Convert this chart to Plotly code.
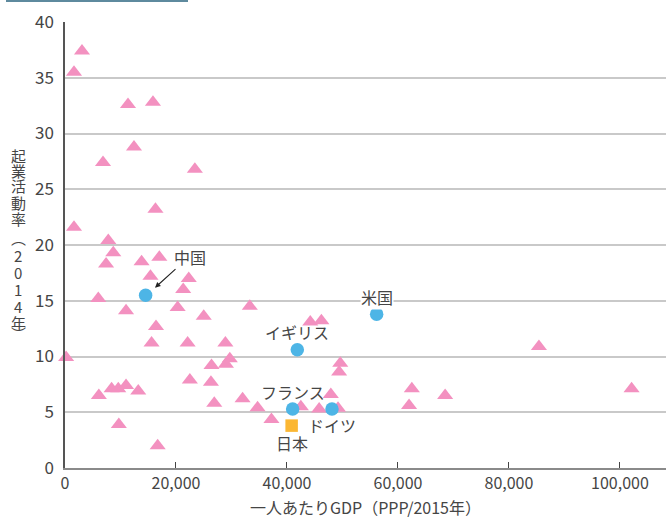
import plotly.graph_objects as go

# Other countries (pink triangles): GDP per capita (PPP, 2015) and TEA rate (2014)
other_gdp = [3060, 1620, 11350, 15850, 12430, 6850, 23400, 16300, 1620, 7800,
             8700, 7400, 13800, 17000, 15400, 22300, 21300, 6000, 11000, 20300,
             33300, 25000, 16400, 15600, 22100, 28900, 200, 26400, 29700, 29000,
             22500, 26300, 6100, 8400, 9600, 11000, 13200, 26900, 32000, 34700,
             37200, 9700, 16700, 44200, 46200, 49600, 49400, 47900, 42500, 45800,
             49200, 85400, 62500, 68500, 102100, 62000]
other_tea = [37.4, 35.5, 32.6, 32.8, 28.8, 27.4, 26.8, 23.2, 21.6, 20.4,
             19.3, 18.3, 18.5, 18.9, 17.2, 17.0, 16.0, 15.2, 14.1, 14.4,
             14.5, 13.6, 12.7, 11.2, 11.2, 11.2, 9.9, 9.2, 9.8, 9.3,
             7.9, 7.7, 6.5, 7.1, 7.1, 7.4, 6.9, 5.8, 6.2, 5.4,
             4.35, 3.9, 2.0, 13.1, 13.2, 9.4, 8.6, 6.6, 5.5, 5.3,
             5.35, 10.9, 7.1, 6.5, 7.1, 5.6]

# Highlighted countries (blue circles)
major_names = ["中国", "米国", "イギリス", "フランス", "ドイツ"]
major_gdp = [14530, 56160, 41860, 41020, 48110]
major_tea = [15.5, 13.8, 10.6, 5.3, 5.3]

# Japan (orange square)
japan_name = "日本"
japan_gdp = [40840]
japan_tea = [3.8]

x_ticks = [0, 20000, 40000, 60000, 80000, 100000]
x_tick_labels = ["0", "20,000", "40,000", "60,000", "80,000", "100,000"]
y_ticks = [0, 5, 10, 15, 20, 25, 30, 35, 40]

x_title = "一人あたりGDP（PPP/2015年）"
y_title_chars = ["起", "業", "活", "動", "率", "︵", "2", "0", "1", "4", "年", "︶"]

FONT = "Noto Sans CJK JP"
TXT = "#454545"

fig = go.Figure()
fig.add_trace(go.Scatter(
    x=other_gdp, y=other_tea, mode="markers", cliponaxis=False,
    marker=dict(symbol="triangle-up", size=14, color="#F391C0", line=dict(width=0)),
    hoverinfo="x+y"))
fig.add_trace(go.Scatter(
    x=major_gdp, y=major_tea, mode="markers", cliponaxis=False, text=major_names,
    marker=dict(symbol="circle", size=13.5, color="#4DB5E6", line=dict(width=0))))
fig.add_trace(go.Scatter(
    x=japan_gdp, y=japan_tea, mode="markers", cliponaxis=False, text=[japan_name],
    marker=dict(symbol="square", size=12.5, color="#FBB733", line=dict(width=0))))

ann = []
# country labels
label_pos = {
    "中国": (22520, 18.92),
    "米国": (56160, 15.36),
    "イギリス": (41750, 12.22),
    "フランス": (41140, 6.84),
    "ドイツ": (48160, 3.86),
}
for name in major_names:
    lx, ly = label_pos[name]
    ann.append(dict(x=lx, y=ly, xref="x", yref="y", text=name, showarrow=False,
                    font=dict(family=FONT, size=16, color=TXT),
                    bgcolor="white" if name == "米国" else None,
                    borderpad=0))
ann.append(dict(x=40850, y=2.22, xref="x", yref="y", text=japan_name, showarrow=False,
                font=dict(family=FONT, size=16, color=TXT)))
# arrow pointing to China
ann.append(dict(x=16216, y=16.17, xref="x", yref="y", text="", showarrow=True,
                ax=22, ay=-20, arrowhead=2, arrowsize=1, arrowwidth=1.1,
                arrowcolor="#222"))
# x-axis title
ann.append(dict(x=0.5, y=-(507 - 468) / 446, xref="paper", yref="paper", xanchor="center",
                yanchor="middle", text=x_title, showarrow=False,
                font=dict(family=FONT, size=16, color=TXT)))
# vertical y-axis title, one character per position
y_px = [155, 170.5, 186, 202, 218, 238, 255, 272, 289, 306, 322, 333]
for ch, py in zip(y_title_chars, y_px):
    ann.append(dict(x=-47/601, y=(468 - py) / 446, xref="paper", yref="paper",
                    xanchor="center", yanchor="middle", text=ch, showarrow=False,
                    borderpad=0, font=dict(family=FONT, size=15, color=TXT)))

fig.update_layout(
    width=666, height=518,
    margin=dict(l=65, r=0, t=22, b=50, pad=0, autoexpand=False),
    paper_bgcolor="white", plot_bgcolor="white",
    showlegend=False,
    font=dict(family=FONT, color=TXT),
    annotations=ann,
    shapes=[dict(type="rect", xref="paper", yref="paper",
                 x0=(6 - 65) / 601, x1=(188 - 65) / 601,
                 y0=(468 - 2) / 446, y1=468 / 446,
                 fillcolor="#5E8A9E", line=dict(width=0), layer="above")],
)

fig.update_xaxes(
    range=[0, 108300], tickvals=x_ticks, ticktext=x_tick_labels,
    showgrid=False, zeroline=False, automargin=False,
    showline=True, linecolor="#8a8a8a", linewidth=2,
    ticks="inside", ticklen=6, tickwidth=1.2, tickcolor="#444",
    tickfont=dict(family=FONT, size=16, color=TXT),
)
fig.update_yaxes(
    range=[0, 40], tickvals=y_ticks,
    showgrid=True, gridcolor="#c9c9c9", gridwidth=1.5, zeroline=False,
    showline=True, linecolor="#555", linewidth=1.5, automargin=False,
    ticks="", ticklabelstandoff=6,
    tickfont=dict(family=FONT, size=17, color=TXT),
)

fig.write_html(
    "out.html",
    config={"displayModeBar": False},
    post_script="document.body.style.margin='0';document.body.style.padding='0';"
                "document.body.style.overflow='hidden';",
)
